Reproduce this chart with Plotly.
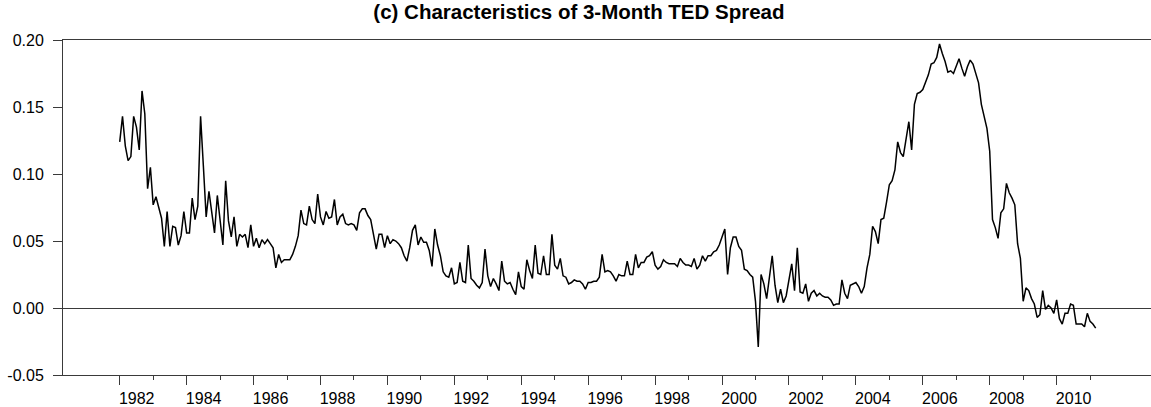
import plotly.graph_objects as go

start_year = 1982
start_month = 1

ted_spread = [
    0.124, 0.143, 0.121, 0.110, 0.113, 0.143, 0.135, 0.118, 0.162, 0.145,
    0.089, 0.105, 0.077, 0.083, 0.075, 0.067, 0.046, 0.072, 0.046, 0.061,
    0.060, 0.047, 0.054, 0.072, 0.056, 0.056, 0.082, 0.066, 0.076, 0.143,
    0.106, 0.068, 0.087, 0.073, 0.056, 0.084, 0.065, 0.047, 0.095, 0.065,
    0.053, 0.068, 0.046, 0.055, 0.053, 0.055, 0.045, 0.062, 0.046, 0.052,
    0.045, 0.051, 0.048, 0.051, 0.048, 0.045, 0.030, 0.040, 0.034, 0.036,
    0.036, 0.036, 0.040, 0.046, 0.054, 0.073, 0.063, 0.062, 0.076, 0.066,
    0.063, 0.085, 0.068, 0.062, 0.072, 0.067, 0.068, 0.081, 0.062, 0.068,
    0.070, 0.063, 0.062, 0.063, 0.062, 0.058, 0.071, 0.074, 0.074, 0.069,
    0.066, 0.055, 0.044, 0.055, 0.055, 0.045, 0.054, 0.048, 0.051, 0.050,
    0.048, 0.045, 0.039, 0.035, 0.045, 0.058, 0.062, 0.047, 0.053, 0.049,
    0.049, 0.043, 0.031, 0.059, 0.047, 0.039, 0.027, 0.024, 0.023, 0.030,
    0.018, 0.019, 0.034, 0.020, 0.019, 0.047, 0.022, 0.020, 0.017, 0.015,
    0.019, 0.044, 0.024, 0.016, 0.022, 0.018, 0.013, 0.035, 0.020, 0.018,
    0.019, 0.014, 0.010, 0.027, 0.016, 0.014, 0.036, 0.028, 0.022, 0.047,
    0.026, 0.025, 0.039, 0.025, 0.025, 0.055, 0.032, 0.029, 0.037, 0.024,
    0.023, 0.018, 0.019, 0.021, 0.020, 0.020, 0.018, 0.014, 0.019, 0.019,
    0.020, 0.020, 0.023, 0.040, 0.027, 0.028, 0.027, 0.024, 0.020, 0.025,
    0.024, 0.024, 0.035, 0.025, 0.025, 0.040, 0.030, 0.034, 0.034, 0.038,
    0.039, 0.042, 0.032, 0.029, 0.031, 0.036, 0.034, 0.033, 0.033, 0.033,
    0.031, 0.037, 0.034, 0.032, 0.032, 0.031, 0.037, 0.029, 0.032, 0.039,
    0.035, 0.039, 0.039, 0.042, 0.043, 0.047, 0.053, 0.059, 0.025, 0.045,
    0.053, 0.053, 0.046, 0.043, 0.029, 0.028, 0.025, 0.023, 0.005, -0.029,
    0.025, 0.018, 0.007, 0.022, 0.039, 0.017, 0.004, 0.014, 0.004, 0.009,
    0.021, 0.033, 0.013, 0.045, 0.012, 0.011, 0.018, 0.005, 0.011, 0.013,
    0.009, 0.011, 0.009, 0.008, 0.008, 0.006, 0.002, 0.003, 0.003, 0.021,
    0.011, 0.007, 0.017, 0.018, 0.019, 0.016, 0.011, 0.016, 0.030, 0.040,
    0.061, 0.057, 0.048, 0.066, 0.067, 0.079, 0.092, 0.095, 0.103, 0.124,
    0.116, 0.113, 0.128, 0.139, 0.118, 0.152, 0.160, 0.161, 0.163, 0.169,
    0.174, 0.182, 0.183, 0.187, 0.197, 0.190, 0.184, 0.176, 0.177, 0.175,
    0.180, 0.186, 0.179, 0.173, 0.180, 0.185, 0.182, 0.175, 0.168, 0.152,
    0.144, 0.134, 0.117, 0.066, 0.060, 0.052, 0.071, 0.074, 0.093, 0.086,
    0.082, 0.077, 0.048, 0.037, 0.005, 0.015, 0.013, 0.007, 0.003, -0.007,
    -0.005, 0.013, -0.001, 0.002, 0.000, -0.004, 0.006, -0.008, -0.012, -0.004,
    -0.004, 0.003, 0.002, -0.012, -0.012, -0.012, -0.014, -0.004, -0.010, -0.012,
    -0.015,
]

major_years = list(range(1982, 2011, 2))
major_labels = [str(y) for y in major_years]
minor_years = list(range(1983, 2012, 2))
y_ticks = [-0.05, 0.00, 0.05, 0.10, 0.15, 0.20]
y_labels = ["-0.05", "0.00", "0.05", "0.10", "0.15", "0.20"]

x_time = [start_year + (start_month - 1 + i) / 12 for i in range(len(ted_spread))]

AXIS_COLOR = "#3a3a3a"
FONT = "Liberation Sans, Arial, sans-serif"

fig = go.Figure()
fig.add_trace(go.Scatter(
    x=x_time, y=ted_spread, mode="lines",
    line=dict(color="black", width=1.5),
    showlegend=False, hoverinfo="skip",
))

fig.update_layout(
    width=1151, height=407,
    margin=dict(l=63, r=0, t=40, b=29),
    paper_bgcolor="white", plot_bgcolor="white",
    font=dict(family=FONT, size=16, color="black"),
    title=dict(
        text="<b>(c) Characteristics of 3-Month TED Spread</b>",
        x=0.503, xref="container", xanchor="center",
        y=0.97, yref="container", yanchor="middle",
        font=dict(family=FONT, size=20.5, color="black"),
    ),
)

fig.update_xaxes(
    range=[1980.305, 2012.82],
    tickmode="array", tickvals=major_years, ticktext=major_labels,
    ticks="outside", ticklen=9, tickwidth=1, tickcolor=AXIS_COLOR,
    ticklabelshift=17,
    minor=dict(tickmode="array", tickvals=minor_years, ticks="outside",
               ticklen=4, tickwidth=1, tickcolor=AXIS_COLOR, showgrid=False),
    showline=True, linecolor=AXIS_COLOR, linewidth=1, mirror=True,
    showgrid=False, zeroline=False,
    tickfont=dict(family=FONT, size=16, color="black"),
)

fig.update_yaxes(
    range=[-0.05, 0.20],
    tickmode="array", tickvals=y_ticks, ticktext=y_labels,
    ticks="outside", ticklen=9, tickwidth=1, tickcolor=AXIS_COLOR,
    ticklabelstandoff=6,
    showline=True, linecolor=AXIS_COLOR, linewidth=1, mirror=False,
    showgrid=False,
    zeroline=True, zerolinecolor=AXIS_COLOR, zerolinewidth=1,
    tickfont=dict(family=FONT, size=16, color="black"),
)

fig.write_html(
    "out.html",
    config={"displayModeBar": False},
    post_script="document.body.style.margin='0';document.body.style.overflow='hidden';",
)
